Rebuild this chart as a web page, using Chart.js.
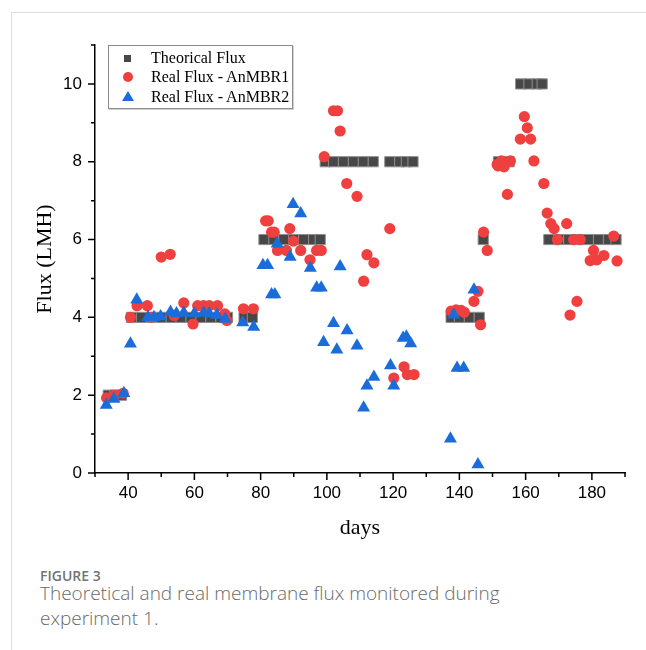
<!DOCTYPE html>
<html>
<head>
<meta charset="utf-8">
<script src="https://cdn.jsdelivr.net/npm/chart.js@4/dist/chart.umd.min.js"></script>
<style>
  body { margin: 0; background: #fff; width: 646px; height: 650px; position: relative; overflow: hidden; }
  #frame { position: absolute; left: 11px; top: 12px; right: -2px; bottom: -2px; border-left: 1px solid #ddd; border-top: 1px solid #ddd; }
  #chart { position: absolute; left: 0; top: 1px; }
  #legend { position: absolute; left: 108px; top: 45px; width: 183px; height: 62px; border: 1px solid #8c8c8c; box-shadow: 1px 1px 0 #d0d0d0; background: #fff; font-family: "Liberation Serif", serif; font-size: 16px; color: #000; }
  .row { position: absolute; left: 0; height: 20px; line-height: 20px; }
  .row span.t { position: absolute; left: 42px; white-space: nowrap; }
  .mk { position: absolute; }
  #fig { position: absolute; left: 40px; top: 566px; font-family: "Open Sans", sans-serif; font-size: 14px; font-weight: 600; color: #737373; }
  #cap { position: absolute; left: 40px; top: 581px; width: 540px; font-family: "Open Sans", sans-serif; font-size: 19px; line-height: 25px; color: #6a6a6a; font-weight: 300; }
</style>
</head>
<body>
<div id="frame"></div>
<canvas id="chart" width="646" height="555"></canvas>
<div id="legend">
  <div class="row" style="top:2px"><div class="mk" style="left:15px;top:7px;width:7px;height:7px;background:#474747"></div><span class="t">Theorical Flux</span></div>
  <div class="row" style="top:21px"><div class="mk" style="left:14px;top:5px;width:10px;height:10px;border-radius:50%;background:#ef3f3f"></div><span class="t">Real Flux - AnMBR1</span></div>
  <div class="row" style="top:41px"><div class="mk" style="left:13px;top:4px;width:0;height:0;border-left:6px solid transparent;border-right:6px solid transparent;border-bottom:10px solid #1b6cdb"></div><span class="t">Real Flux - AnMBR2</span></div>
</div>
<div id="fig">FIGURE 3</div>
<div id="cap">Theoretical and real membrane flux monitored during<br>experiment 1.</div>
<script>
// theoretical flux (squares)
const theoDays = [34, 36, 38,
  41, 44, 47, 50, 53, 56, 59, 62, 65, 68, 70,
  75, 77.5,
  81, 84, 87, 90, 93, 96, 98,
  99.5, 102, 105, 108, 111, 114,
  119, 122, 124, 126,
  137.5, 140, 143, 146,
  147.2,
  151.8, 155,
  158.5, 161, 163.5, 165,
  167, 170, 173, 176, 179, 182, 185, 187.3];
const theoFlux = [2, 2, 2,
  4, 4, 4, 4, 4, 4, 4, 4, 4, 4, 4,
  4, 4,
  6, 6, 6, 6, 6, 6, 6,
  8, 8, 8, 8, 8, 8,
  8, 8, 8, 8,
  4, 4, 4, 4,
  6,
  8, 8,
  10, 10, 10, 10,
  6, 6, 6, 6, 6, 6, 6, 6];

// real flux AnMBR1 (circles)
const r1Days = [33.5, 36, 38.5, 40.7, 42.7, 45.8, 47, 50, 52.7, 53.9, 56.8, 59.6, 61, 62.8, 64.5, 67, 69.2, 69.8,
  74.8, 77.8, 81.5, 82.3, 83.3, 84.1, 85.1, 87.8, 88.8, 89.9, 92.1, 94.9, 96.9, 98.3,
  99.2, 102, 103.2, 104, 106, 109.1, 111.1, 112.1, 114.2, 119, 120.2, 123.3, 124.3, 126.3,
  137.5, 139, 140.5, 141.5, 144.4, 145.6, 146.4, 147.3, 148.4,
  151.4, 151.7, 152.7, 153.5, 155.4, 154.5, 158.4, 159.6, 160.5, 161.5, 162.5, 165.5,
  166.5, 167.6, 168.6, 169.6, 172.4, 173.4, 174.5, 175.5, 176.5, 179.5, 180.5, 181.5, 183.6, 186.6, 187.6];
const r1Flux = [1.93, 2.0, 2.05, 4.0, 4.3, 4.3, 4.0, 5.55, 5.62, 4.05, 4.37, 3.83, 4.3, 4.3, 4.3, 4.3, 4.09, 3.92,
  4.22, 4.22, 6.48, 6.48, 6.19, 6.19, 5.72, 5.72, 6.28, 5.96, 5.72, 5.48, 5.72, 5.72,
  8.13, 9.31, 9.31, 8.79, 7.44, 7.11, 4.93, 5.61, 5.40, 6.28, 2.44, 2.73, 2.53, 2.53,
  4.16, 4.19, 4.18, 4.13, 4.41, 4.67, 3.81, 6.19, 5.72,
  7.93, 7.89, 8.02, 7.87, 8.02, 7.16, 8.58, 9.16, 8.87, 8.58, 8.02, 7.44,
  6.68, 6.41, 6.28, 6.0, 6.41, 4.06, 6.0, 4.41, 6.0, 5.46, 5.72, 5.48, 5.59, 6.09, 5.45];

// real flux AnMBR2 (triangles)
const r2Days = [33.4, 35.7, 38.7, 40.7, 42.6, 46, 47.8, 49.8, 52.8, 54.6, 56.8, 60, 62.8, 64.5, 66.8, 69.3,
  74.6, 77.9, 80.7, 82.1, 83.3, 84.3, 85, 88.9, 89.8, 92.1, 95, 96.9, 98.3,
  99, 102, 103, 104, 106.1, 109.1, 111.1, 112.1, 114.2, 119.2, 120.2, 123, 124, 125.3,
  137.3, 138.3, 139.3, 141.3, 144.4, 145.6];
const r2Flux = [1.75, 1.9, 2.05, 3.32, 4.45, 4.0, 4.0, 4.02, 4.14, 4.1, 4.12, 4.1, 4.12, 4.09, 4.06, 3.96,
  3.87, 3.75, 5.34, 5.34, 4.59, 4.59, 5.89, 5.55, 6.91, 6.67, 5.27, 4.76, 4.76,
  3.36, 3.85, 3.17, 5.31, 3.66, 3.27, 1.68, 2.24, 2.47, 2.76, 2.24, 3.47, 3.5, 3.33,
  0.88, 4.07, 2.7, 2.7, 4.71, 0.22];

const xMin = 30, xMax = 190, yMin = 0, yMax = 11;

function pts(xs, ys) {
  return xs.map((d, i) => ({ x: d, y: ys[i] }));
}

// tick marks: major ones labelled, minor ones between
const tickMarks = {
  id: 'tickMarks',
  afterDraw(chart) {
    const ctx = chart.ctx;
    const xs = chart.scales.x, ys = chart.scales.y;
    const area = chart.chartArea;
    ctx.save();
    ctx.strokeStyle = '#000';
    ctx.lineWidth = 1.5;
    ctx.beginPath();
    for (let v = xMin; v <= xMax; v += 10) {
      const px = xs.getPixelForValue(v);
      const len = v % 20 === 0 ? 7 : 4;
      ctx.moveTo(px, area.bottom);
      ctx.lineTo(px, area.bottom + len);
    }
    for (let v = yMin; v <= yMax; v += 1) {
      const py = ys.getPixelForValue(v);
      const len = v % 2 === 0 ? 7 : 4;
      ctx.moveTo(area.left, py);
      ctx.lineTo(area.left - len, py);
    }
    ctx.stroke();
    ctx.restore();
  }
};

new Chart(document.getElementById('chart'), {
  type: 'scatter',
  data: {
    datasets: [
      {
        label: 'Real Flux - AnMBR2',
        data: pts(r2Days, r2Flux),
        pointStyle: 'triangle',
        pointRadius: 7.5,
        backgroundColor: '#1b6cdb',
        borderColor: '#1b6cdb',
        borderWidth: 0,
        order: 1,
        clip: false
      },
      {
        label: 'Real Flux - AnMBR1',
        data: pts(r1Days, r1Flux),
        pointStyle: 'circle',
        pointRadius: 5.6,
        backgroundColor: '#ef3f3f',
        borderColor: '#ef3f3f',
        borderWidth: 0,
        order: 2,
        clip: false
      },
      {
        label: 'Theorical Flux',
        data: pts(theoDays, theoFlux),
        pointStyle: 'rect',
        pointRadius: 7.2,
        backgroundColor: '#474747',
        borderColor: '#8f8f8f',
        borderWidth: 1,
        order: 3,
        clip: false
      }
    ]
  },
  options: {
    responsive: false,
    animation: false,
    devicePixelRatio: 1,
    layout: { padding: { left: 0, right: 21, top: 44, bottom: 0 } },
    plugins: {
      legend: { display: false },
      tooltip: { enabled: false }
    },
    scales: {
      x: {
        type: 'linear',
        min: xMin,
        max: xMax,
        grid: { display: false, drawTicks: false },
        border: { display: true, color: '#000', width: 1.5 },
        ticks: {
          stepSize: 10,
          autoSkip: false,
          maxRotation: 0,
          padding: 10,
          color: '#000',
          font: { family: '"Liberation Sans", Arial, sans-serif', size: 17 },
          callback: (v) => (v % 20 === 0 ? String(v) : '')
        },
        title: {
          display: true,
          text: 'days',
          color: '#000',
          padding: { top: 0, bottom: 15 },
          font: { family: '"Liberation Serif", serif', size: 22 }
        },
        afterFit: (s) => { s.height = 83; }
      },
      y: {
        type: 'linear',
        min: yMin,
        max: yMax,
        grid: { display: false, drawTicks: false },
        border: { display: true, color: '#000', width: 1.5 },
        ticks: {
          stepSize: 1,
          autoSkip: false,
          padding: 13,
          color: '#000',
          font: { family: '"Liberation Sans", Arial, sans-serif', size: 17 },
          callback: (v) => (v % 2 === 0 ? String(v) : '')
        },
        title: {
          display: true,
          text: 'Flux (LMH)',
          color: '#000',
          padding: { top: 32, bottom: 0 },
          font: { family: '"Liberation Serif", serif', size: 22 }
        },
        afterFit: (s) => { s.width = 95; }
      }
    }
  },
  plugins: [tickMarks]
});
</script>
</body>
</html>
